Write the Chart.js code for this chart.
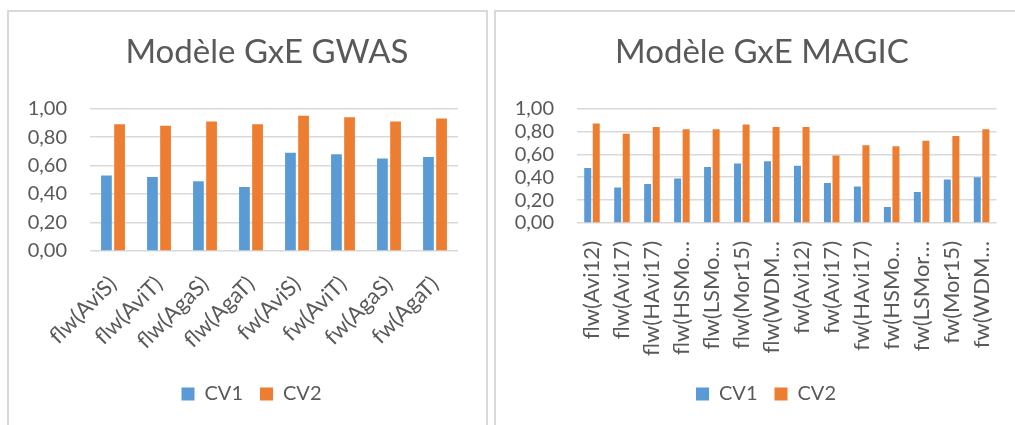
<!DOCTYPE html>
<html>
<head>
<meta charset="utf-8">
<script src="https://cdn.jsdelivr.net/npm/chart.js@4"></script>
<style>
  html, body { margin: 0; padding: 0; background: #ffffff; overflow: hidden; width: 1015px; height: 425px; }
  .box { position: absolute; border: 2px solid #d9d9d9; box-sizing: border-box; }
  canvas { position: absolute; }
</style>
</head>
<body>
<div class="box" style="left:7px; top:10px; width:481px; height:440px;"></div>
<div class="box" style="left:494px; top:10px; width:540px; height:440px;"></div>
<canvas id="gwas" width="487" height="413" style="left:8px; top:12px;"></canvas>
<canvas id="magic" width="522" height="413" style="left:505px; top:12px;"></canvas>
<script>
// ---- data ----
const gwasTitle = 'Modèle GxE GWAS';
const gwasCategories = ['flw(AviS)', 'flw(AviT)', 'flw(AgaS)', 'flw(AgaT)', 'fw(AviS)', 'fw(AviT)', 'fw(AgaS)', 'fw(AgaT)'];
const gwasCV1 = [0.53, 0.52, 0.49, 0.45, 0.69, 0.68, 0.65, 0.66];
const gwasCV2 = [0.89, 0.88, 0.91, 0.89, 0.95, 0.94, 0.91, 0.93];

const magicTitle = 'Modèle GxE MAGIC';
const magicCategories = ['flw(Avi12)', 'flw(Avi17)', 'flw(HAvi17)', 'flw(HSMo…', 'flw(LSMo…', 'flw(Mor15)', 'flw(WDM…',
                         'fw(Avi12)', 'fw(Avi17)', 'fw(HAvi17)', 'fw(HSMo…', 'fw(LSMor…', 'fw(Mor15)', 'fw(WDM…'];
const magicCV1 = [0.48, 0.31, 0.34, 0.39, 0.49, 0.52, 0.54, 0.50, 0.35, 0.32, 0.14, 0.27, 0.38, 0.40];
const magicCV2 = [0.87, 0.78, 0.84, 0.82, 0.82, 0.86, 0.84, 0.84, 0.59, 0.68, 0.67, 0.72, 0.76, 0.82];

const seriesNames = ['CV1', 'CV2'];
const yTickLabels = ['0,00', '0,20', '0,40', '0,60', '0,80', '1,00'];

// ---- styling ----
const COLORS = ['#5B9BD5', '#ED7D31'];
const TEXT = '#595959';
const GRID = '#d9d9d9';
const FONT = 'Lato, "Open Sans", sans-serif';

// shifts the centred title / legend horizontally (Excel centres them differently)
const blockShift = {
  id: 'blockShift',
  afterLayout(chart, args, opts) {
    const t = chart.titleBlock;
    if (t && opts.titleDx) { t.left += opts.titleDx; t.right += opts.titleDx; }
    const l = chart.legend;
    if (l && opts.legendDx) { l.left += opts.legendDx; l.right += opts.legendDx; }
  }
};

function makeChart(id, title, cats, v1, v2, cfg) {
  return new Chart(document.getElementById(id), {
    type: 'bar',
    data: {
      labels: cats,
      datasets: [
        { label: seriesNames[0], data: v1, backgroundColor: COLORS[0], borderWidth: 0,
          categoryPercentage: 0.57, barPercentage: 0.82 },
        { label: seriesNames[1], data: v2, backgroundColor: COLORS[1], borderWidth: 0,
          categoryPercentage: 0.57, barPercentage: 0.82 }
      ]
    },
    plugins: [blockShift],
    options: {
      responsive: false,
      animation: false,
      layout: { padding: { left: 0, right: cfg.rightPad, top: 0, bottom: 11 } },
      plugins: {
        blockShift: { titleDx: cfg.titleDx, legendDx: cfg.legendDx },
        title: {
          display: true, text: title, color: TEXT,
          font: { family: FONT, size: 33, weight: 'normal', lineHeight: 1.2 },
          padding: { top: 21, bottom: 36 }
        },
        legend: {
          position: 'bottom',
          labels: {
            color: TEXT, boxWidth: 13, boxHeight: 13, padding: 17,
            font: { family: FONT, size: 20 }
          }
        },
        tooltip: { enabled: false }
      },
      scales: {
        x: {
          grid: { display: false, drawTicks: false },
          border: { display: false },
          ticks: {
            color: TEXT, font: { family: FONT, size: 22 },
            autoSkip: false, minRotation: cfg.rotation, maxRotation: cfg.rotation,
            padding: cfg.xPad
          },
          afterFit(scale) { scale.height = cfg.xHeight; }
        },
        y: {
          min: 0, max: 1,
          grid: { color: GRID, lineWidth: 1.5, drawTicks: false },
          border: { display: false },
          ticks: {
            stepSize: 0.2, autoSkip: false, color: TEXT, padding: 23,
            font: { family: FONT, size: 20 },
            callback: (v) => yTickLabels[Math.round(v / 0.2)]
          },
          afterFit(scale) { scale.width = cfg.yWidth; }
        }
      }
    }
  });
}

makeChart('gwas', gwasTitle, gwasCategories, gwasCV1, gwasCV2,
  { rightPad: 37, titleDx: 34, legendDx: 18.5, rotation: 45, xPad: 20, xHeight: 116, yWidth: 82 });
makeChart('magic', magicTitle, magicCategories, magicCV1, magicCV2,
  { rightPad: 29, titleDx: 10.5, legendDx: 14.5, rotation: 90, xPad: 18, xHeight: 144, yWidth: 72 });
</script>
</body>
</html>
